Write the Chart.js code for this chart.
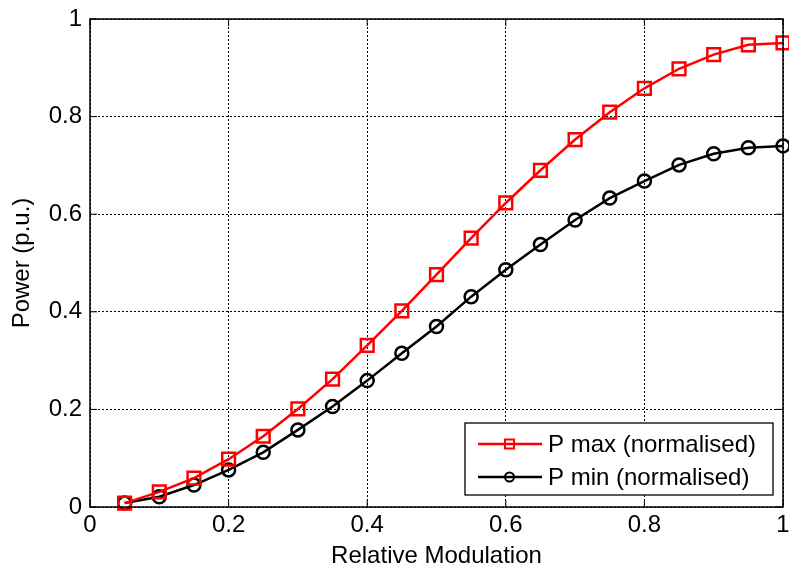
<!DOCTYPE html>
<html>
<head>
<meta charset="utf-8">
<script src="https://cdn.jsdelivr.net/npm/chart.js@4.4.0/dist/chart.umd.min.js"></script>
<style>
  html, body { margin: 0; padding: 0; background: #fff; }
  #wrap { width: 789px; height: 572px; }
</style>
</head>
<body>
<div id="wrap"><canvas id="c" width="789" height="572"></canvas></div>
<script>
var modulation = [0.05, 0.1, 0.15, 0.2, 0.25, 0.3, 0.35, 0.4, 0.45, 0.5,
                  0.55, 0.6, 0.65, 0.7, 0.75, 0.8, 0.85, 0.9, 0.95, 1.0];
var pMax = [0.008, 0.031, 0.059, 0.098, 0.145, 0.201, 0.262, 0.331, 0.402, 0.476,
            0.551, 0.623, 0.690, 0.753, 0.809, 0.858, 0.898, 0.927, 0.947, 0.951];
var pMin = [0.008, 0.021, 0.045, 0.076, 0.112, 0.158, 0.206, 0.259, 0.315, 0.370,
            0.431, 0.486, 0.538, 0.588, 0.633, 0.668, 0.701, 0.724, 0.736, 0.740];
var seriesNames = ['P max (normalised)', 'P min (normalised)'];
var yTicks = [0, 0.2, 0.4, 0.6, 0.8, 1];

function pts(ys) {
  return modulation.map(function(x, i){ return {x: x, y: ys[i]}; });
}

var FONT = 'Liberation Sans, Arial, sans-serif';
var FS = 24;

// box round the axes, inward tick marks, and the legend drawn inside the plot
var frame = {
  id: 'frame',
  afterDraw: function(chart) {
    var ctx = chart.ctx, a = chart.chartArea;
    var xs = chart.scales.x, ys = chart.scales.y;
    ctx.save();
    ctx.strokeStyle = '#000';
    ctx.lineWidth = 1.5;
    ctx.strokeRect(a.left, a.top, a.right - a.left, a.bottom - a.top);
    ctx.lineWidth = 1;
    ctx.beginPath();
    xs.ticks.forEach(function(t){
      var px = xs.getPixelForValue(t.value);
      ctx.moveTo(px, a.bottom); ctx.lineTo(px, a.bottom - 7);
      ctx.moveTo(px, a.top); ctx.lineTo(px, a.top + 7);
    });
    ys.ticks.forEach(function(t){
      var py = ys.getPixelForValue(t.value);
      ctx.moveTo(a.left, py); ctx.lineTo(a.left + 7, py);
      ctx.moveTo(a.right, py); ctx.lineTo(a.right - 7, py);
    });
    ctx.stroke();

    // legend
    var bx = 465, by = 423, bw = 308, bh = 72;
    ctx.fillStyle = '#fff';
    ctx.fillRect(bx, by, bw, bh);
    ctx.lineWidth = 1.3;
    ctx.strokeRect(bx, by, bw, bh);
    ctx.font = FS + 'px ' + FONT;
    ctx.textBaseline = 'middle';
    chart.data.datasets.forEach(function(ds, i){
      var cy = by + 21 + i * 33;
      ctx.strokeStyle = ds.borderColor;
      ctx.lineWidth = 2.5;
      ctx.beginPath();
      ctx.moveTo(bx + 13, cy); ctx.lineTo(bx + 77, cy);
      ctx.stroke();
      ctx.lineWidth = 2;
      ctx.beginPath();
      if (ds.pointStyle === 'rect') {
        ctx.rect(bx + 40, cy - 4.5, 9, 9);
      } else {
        ctx.arc(bx + 44.5, cy, 4.5, 0, Math.PI * 2);
      }
      ctx.stroke();
      ctx.fillStyle = '#000';
      ctx.fillText(ds.label, bx + 83, cy + 1);
    });
    ctx.restore();
  }
};

new Chart(document.getElementById('c'), {
  type: 'scatter',
  data: {
    datasets: [
      {
        label: seriesNames[0],
        data: pts(pMax),
        showLine: true,
        clip: 12,
        borderColor: '#ff0000',
        backgroundColor: 'rgba(0,0,0,0)',
        borderWidth: 2.5,
        pointStyle: 'rect',
        pointRadius: 9,
        pointBorderWidth: 2.5,
        pointBorderColor: '#ff0000',
        pointBackgroundColor: 'rgba(0,0,0,0)'
      },
      {
        label: seriesNames[1],
        data: pts(pMin),
        showLine: true,
        clip: 12,
        borderColor: '#000000',
        backgroundColor: 'rgba(0,0,0,0)',
        borderWidth: 2.5,
        pointStyle: 'circle',
        pointRadius: 6.5,
        pointBorderWidth: 2.5,
        pointBorderColor: '#000000',
        pointBackgroundColor: 'rgba(0,0,0,0)'
      }
    ]
  },
  options: {
    responsive: false,
    animation: false,
    layout: { autoPadding: false, padding: { top: 19, right: 6, left: 0, bottom: 0 } },
    plugins: { legend: { display: false }, tooltip: { enabled: false } },
    scales: {
      x: {
        type: 'linear', min: 0, max: 1,
        afterFit: function(s){ s.height = 65; s.paddingRight = 0; s.paddingLeft = 0; },
        ticks: { stepSize: 0.2, color: '#000', font: { family: FONT, size: FS }, padding: 4,
                 callback: function(v){ return +v.toFixed(1); } },
        grid: { color: '#000', lineWidth: 1, drawTicks: false },
        border: { display: false, dash: [2, 2] },
        title: { display: true, text: 'Relative Modulation', color: '#000',
                 font: { family: FONT, size: FS }, padding: { top: 0, bottom: 1 } }
      },
      y: {
        type: 'linear', min: 0, max: 1,
        afterFit: function(s){ s.width = 90; s.paddingTop = 0; s.paddingBottom = 0; },
        afterBuildTicks: function(s){ s.ticks = yTicks.map(function(v){ return {value: v}; }); },
        ticks: { color: '#000', font: { family: FONT, size: FS }, padding: 8,
                 callback: function(v){ return +v.toFixed(1); } },
        grid: { color: '#000', lineWidth: 1, drawTicks: false },
        border: { display: false, dash: [2, 2] },
        title: { display: true, text: 'Power (p.u.)', color: '#000',
                 font: { family: FONT, size: FS }, padding: { top: 8, bottom: 0 } }
      }
    }
  },
  plugins: [frame]
});
</script>
</body>
</html>
